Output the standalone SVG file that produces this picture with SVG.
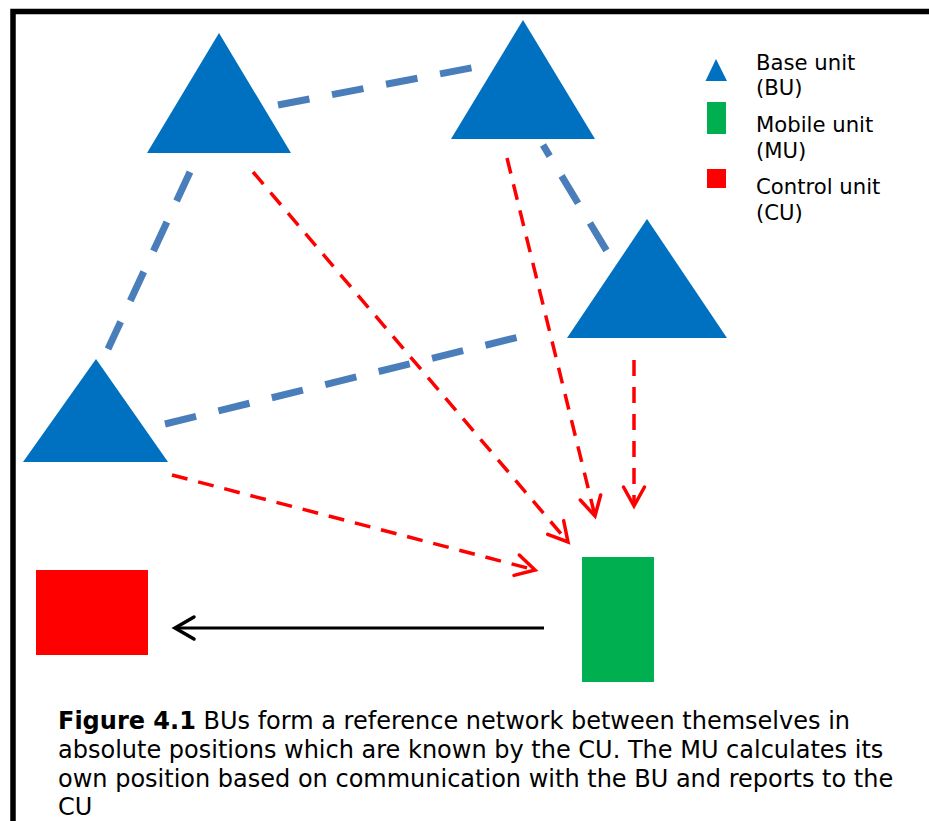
<svg xmlns="http://www.w3.org/2000/svg" width="929" height="821" viewBox="0 0 929 821">
  <style>
    .bu { fill: #0070C0; }
    .link { stroke: #4A7EBB; stroke-width: 7; stroke-dasharray: 32 23; fill: none; }
    .comm { stroke: #FF0000; stroke-width: 3.5; stroke-dasharray: 16 11; fill: none; }
    .report { stroke: #000000; stroke-width: 3; fill: none; }
    .lg { font-family: "DejaVu Sans", Verdana, sans-serif; font-size: 21.2px; fill: #000; }
    .cap { font-family: "DejaVu Sans", Verdana, sans-serif; font-size: 24px; fill: #000; }
  </style>
  <defs>
    <marker id="arrRed" markerUnits="userSpaceOnUse" markerWidth="40" markerHeight="40" refX="0" refY="0" orient="auto" overflow="visible">
      <path d="M-19,-10.5 L0,0 L-19,10.5" fill="none" stroke="#FF0000" stroke-width="3.5" stroke-linecap="round" stroke-linejoin="miter"/>
    </marker>
    <marker id="arrBlack" markerUnits="userSpaceOnUse" markerWidth="40" markerHeight="40" refX="0" refY="0" orient="auto" overflow="visible">
      <path d="M-19,-11 L0,0 L-19,11" fill="none" stroke="#000000" stroke-width="3.5" stroke-linecap="round" stroke-linejoin="miter"/>
    </marker>
  </defs>
  <rect x="0" y="0" width="929" height="821" fill="#FFFFFF"/>
  <path id="frame" d="M13,821 V11.5 H929" fill="none" stroke="#000" stroke-width="5.5"/>

  <g id="connectors">
    <line class="link" x1="278" y1="105" x2="476" y2="67"/>
    <line class="link" x1="190" y1="172" x2="108" y2="349"/>
    <line class="link" x1="543" y1="145" x2="608" y2="253" stroke-dashoffset="19"/>
    <line class="link" x1="165" y1="424" x2="523" y2="336"/>
    <line class="comm" x1="253" y1="172" x2="568" y2="542" marker-end="url(#arrRed)"/>
    <line class="comm" x1="507" y1="158" x2="595" y2="516" marker-end="url(#arrRed)"/>
    <line class="comm" x1="634" y1="360" x2="634" y2="506" marker-end="url(#arrRed)"/>
    <line class="comm" x1="172" y1="475" x2="535" y2="570" marker-end="url(#arrRed)"/>
    <line class="report" x1="544" y1="628" x2="175" y2="628" marker-end="url(#arrBlack)"/>
  </g>

  <g id="bu1"><polygon class="bu" points="219,33 147,153 291,153"/></g>
  <g id="bu2"><polygon class="bu" points="523,20 451,139 595,139"/></g>
  <g id="bu3"><polygon class="bu" points="647,219 567,338 727,338"/></g>
  <g id="bu4"><polygon class="bu" points="96,359 23,462 168,462"/></g>
  <g id="cu"><rect x="36" y="570" width="112" height="85" fill="#FF0000"/></g>
  <g id="mu"><rect x="582" y="557" width="72" height="125" fill="#00B050"/></g>

  <g id="legend">
    <polygon class="bu" points="716,59 705.5,81 727,81"/>
    <rect x="707" y="102" width="19" height="32" fill="#00B050"/>
    <rect x="707" y="169" width="19" height="19" fill="#FF0000"/>
    <text class="lg" x="756" y="70">Base unit</text>
    <text class="lg" x="756" y="95">(BU)</text>
    <text class="lg" x="756" y="132">Mobile unit</text>
    <text class="lg" x="756" y="158">(MU)</text>
    <text class="lg" x="756" y="194">Control unit</text>
    <text class="lg" x="756" y="220">(CU)</text>
  </g>

  <g id="caption">
    <text class="cap" x="58" y="729"><tspan font-weight="bold">Figure 4.1</tspan> BUs form a reference network between themselves in</text>
    <text class="cap" x="58" y="758">absolute positions which are known by the CU. The MU calculates its</text>
    <text class="cap" x="58" y="787">own position based on communication with the BU and reports to the</text>
    <text class="cap" x="58" y="815">CU</text>
  </g>
</svg>
